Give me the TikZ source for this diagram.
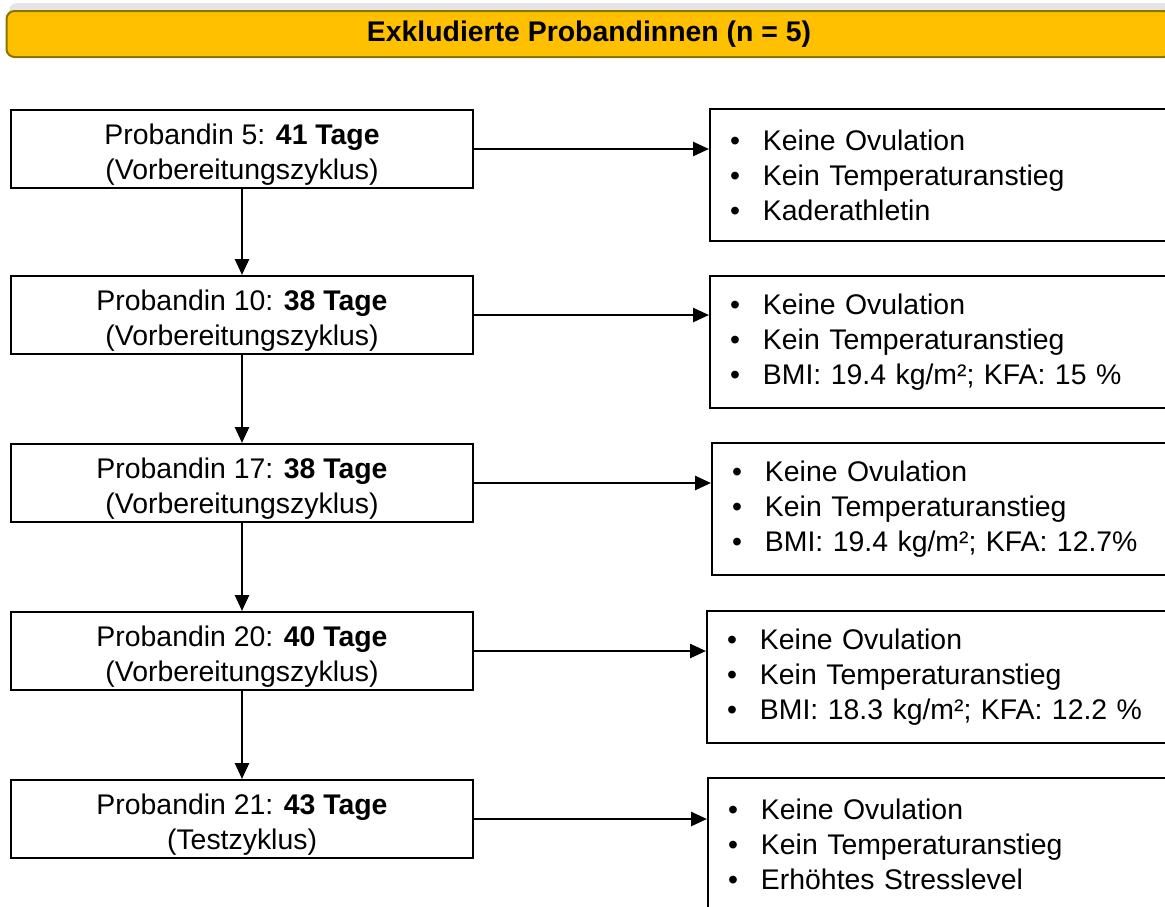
\documentclass[tikz,border=0pt]{standalone}
\usepackage{fontspec}
\setmainfont{Liberation Sans}
\usepackage{xcolor}
\usetikzlibrary{arrows.meta, positioning, calc}
\definecolor{headyellow}{HTML}{FFC000}
\definecolor{headedge}{HTML}{8C7400}

\begin{document}
\begin{tikzpicture}[x=0.5pt, y=-0.5pt,
  font=\fontsize{14.2pt}{17.5pt}\selectfont,
  head/.style={draw=headedge, fill=headyellow, line width=1pt, rounded corners=4pt,
    minimum width=582.5pt, minimum height=23pt, inner sep=0pt, font=\fontsize{14.2pt}{17.5pt}\selectfont\bfseries},
  probox/.style={draw, line width=1pt, minimum width=231pt, minimum height=39pt,
    text height=33pt, text depth=3pt, align=center, inner sep=0pt},
  infobox/.style={draw, line width=1pt, text width=215pt, minimum height=66pt,
    align=left, inner xsep=10pt, inner ysep=0pt, anchor=west},
  link/.style={line width=1.3pt, -{Triangle[length=8pt, width=7pt]}}]
\useasboundingbox (0,0) rectangle (1165,906);
\newcommand{\itm}{\makebox[16.5pt][l]{\textbullet}}

% Header (mit leichtem Schatten)
\fill[black!10, rounded corners=4pt] (9,3) rectangle (1175,40);
\node[head] (head) at (589,34) {Exkludierte Probandinnen (n = 5)};

% Probandinnen
\node[probox] (p5) at (242,149) {Probandin 5: \textbf{41 Tage}\\(Vorbereitungszyklus)};
\node[probox] (p10) at (242,315) {Probandin 10: \textbf{38 Tage}\\(Vorbereitungszyklus)};
\node[probox] (p17) at (242,483) {Probandin 17: \textbf{38 Tage}\\(Vorbereitungszyklus)};
\node[probox] (p20) at (242,651) {Probandin 20: \textbf{40 Tage}\\(Vorbereitungszyklus)};
\node[probox] (p21) at (242,819) {Probandin 21: \textbf{43 Tage}\\(Testzyklus)};

% Gruende
\node[infobox] (g5) at (709,175) {\itm Keine Ovulation\\\itm Kein Temperaturanstieg\\\itm Kaderathletin};
\node[infobox] (g10) at (709,342) {\itm Keine Ovulation\\\itm Kein Temperaturanstieg\\\itm BMI: 19.4 kg/m²; KFA: 15 \%};
\node[infobox] (g17) at (711,509) {\itm Keine Ovulation\\\itm Kein Temperaturanstieg\\\itm BMI: 19.4 kg/m²; KFA: 12.7\%};
\node[infobox] (g20) at (706,677) {\itm Keine Ovulation\\\itm Kein Temperaturanstieg\\\itm BMI: 18.3 kg/m²; KFA: 12.2 \%};
\node[infobox] (g21) at (707,844) {\itm Keine Ovulation\\\itm Kein Temperaturanstieg\\\itm Erhöhtes Stresslevel};

% Pfeile
\foreach \a/\b in {p5/p10, p10/p17, p17/p20, p20/p21} {
  \draw[link] (\a) -- (\b);
}
\foreach \a in {5,10,17,20,21} {
  \draw[link] (p\a.east) -- (p\a.east -| g\a.west);
}
\end{tikzpicture}
\end{document}
